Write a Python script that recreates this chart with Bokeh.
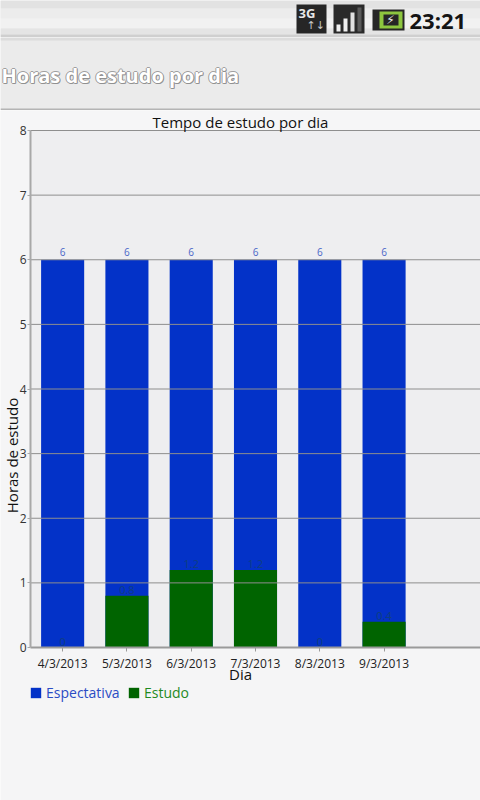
import math
from bokeh.plotting import figure
from bokeh.models import Range1d, FixedTicker, Legend, LegendItem, Label, ColumnDataSource, LinearAxis
from bokeh.layouts import column
from bokeh.embed import file_html
from bokeh.resources import INLINE
from bokeh.core.properties import value

# ---- data ----
days = ["4/3/2013", "5/3/2013", "6/3/2013", "7/3/2013", "8/3/2013", "9/3/2013"]
espectativa = [6, 6, 6, 6, 6, 6]
estudo = [0, 0.8, 1.2, 1.2, 0, 0.4]
y_ticks = [0, 1, 2, 3, 4, 5, 6, 7, 8]
chart_title = "Tempo de estudo por dia"
app_title = "Horas de estudo por dia"
x_title = "Dia"
y_title = "Horas de estudo"
clock = "23:21"

FONT = "Open Sans"
W = 480
BLUE = "#0332c8"
GREEN = "#006400"

def bare(h, y0, y1, bg):
    f = figure(width=W, height=h, x_range=Range1d(0, 480), y_range=Range1d(y1, y0),
               x_axis_location=None, y_axis_location=None, output_backend="svg",
               toolbar_location=None, min_border=0)
    f.grid.visible = False
    f.outline_line_color = None
    f.background_fill_color = bg
    f.border_fill_color = bg
    return f

# ---- status bar ----
sb = bare(37, 0, 37, "#ececec")
sb.quad(left=[0] * 5, right=[480] * 5, top=[0, 8, 18, 28, 34], bottom=[8, 18, 28, 34, 37],
        color=["#e2e2e2", "#ececec", "#f1f1f1", "#e4e4e4", "#cfcfcf"], line_color=None)
# 3G icon
sb.quad(left=[296], right=[326], top=[4], bottom=[33], color="#262626", line_color=None)
sb.text(x=[298], y=[12], text=["3G"], text_color="#e8e8e8", text_font=value(FONT),
        text_font_style="bold", text_font_size="13px", text_baseline="middle")
sb.text(x=[306], y=[25], text=["↑↓"], text_color="#c8c8c8", text_font=value("DejaVu Sans"),
        text_font_size="11px", text_baseline="middle")
# signal icon
sb.quad(left=[333], right=[364], top=[4], bottom=[33], color="#2a2a2a", line_color=None)
sb.quad(left=[336, 343, 350, 357], right=[340, 347, 354, 361], top=[24, 18, 12, 7],
        bottom=[31, 31, 31, 31], color=["#f0f0f0", "#f0f0f0", "#e0e0e0", "#5a5a5a"], line_color=None)
# battery icon
sb.quad(left=[372, 375], right=[404, 378], top=[9, 14], bottom=[30, 25], color="#262626", line_color=None)
sb.quad(left=[379], right=[402], top=[11], bottom=[28], color="#8dc63f", line_color=None)
sb.quad(left=[383], right=[398], top=[14], bottom=[25], color="#262626", line_color=None)
sb.text(x=[390], y=[19.5], text=["⚡"], text_color="#f4f4f4", text_font=value("DejaVu Sans"),
        text_font_size="12px", text_align="center", text_baseline="middle")
sb.text(x=[409], y=[19.5], text=[clock], text_color="#141414", text_font=value(FONT),
        text_font_style="bold", text_font_size="22px", text_baseline="middle")

# ---- application title bar ----
tb = bare(73, 37, 110, "#ebebeb")
tb.quad(left=[0, 0], right=[480, 480], top=[37, 108], bottom=[40, 110],
        color=["#dcdcdc", "#b4b4b4"], line_color=None)
for ox, oy in [(-1, 0), (1, 0), (0, -1), (0, 1), (1, 1)]:
    tb.text(x=[1 + ox], y=[75 + oy], text=[app_title], text_color="#8c8c8c", text_alpha=0.8,
            text_font=value(FONT), text_font_style="bold", text_font_size="20px",
            text_baseline="middle")
tb.text(x=[1], y=[75], text=[app_title], text_color="#ffffff", text_font=value(FONT),
        text_font_style="bold", text_font_size="20px", text_baseline="middle")

# ---- chart ----
H = 690           # covers screen rows 110..800
PX = 450 / 7.0    # pixels per x unit
PY = 517 / 8.0    # pixels per y unit
X0 = 0.5 - 30 / PX
X1 = 0.5 + 450 / PX
Y0 = -(800 - 647) / PY
Y1 = (647 - 110) / PY

def dx(px_):
    return 0.5 + (px_ - 30) / PX

def dy(py_):
    return (647 - py_) / PY

xs = list(range(1, len(days) + 1))
src = ColumnDataSource(dict(x=xs, esp=espectativa, est=estudo,
                            esp_t=[f"{v:g}" for v in espectativa],
                            est_t=[f"{v:g}" for v in estudo]))

p = figure(width=W, height=H, x_range=Range1d(X0, X1), y_range=Range1d(Y0, Y1),
           x_axis_location=None, y_axis_location=None,
           output_backend="svg", toolbar_location=None, min_border=0)
p.background_fill_color = "#f5f5f6"
p.border_fill_color = "#f5f5f6"
p.outline_line_color = None
p.grid.visible = False

# plot area
p.quad(left=[0.5], right=[X1], bottom=[0], top=[max(y_ticks)], color="#eeeef0", line_color=None)
p.quad(left=[X0], right=[X1], bottom=[dy(130)], top=[Y1], color="#f6f6f7", line_color=None)

r_esp = p.vbar(x="x", top="esp", bottom=0, width=0.67, source=src, fill_color=BLUE, line_color=None)
r_est = p.vbar(x="x", top="est", bottom=0, width=0.67, source=src, fill_color=GREEN, line_color=None)

# horizontal grid lines (drawn over the bars)
p.segment(x0=[0.5] * len(y_ticks[1:]), x1=[X1] * len(y_ticks[1:]), y0=y_ticks[1:], y1=y_ticks[1:],
          line_color="#8e8e8e", line_width=1)

p.text(x="x", y="esp", text="esp_t", source=src, text_color="#4a66c8", text_font=value(FONT),
       text_font_size="10px", text_align="center", text_baseline="bottom", y_offset=-4)
p.text(x="x", y="est", text="est_t", source=src, text_color="#0e3f80", text_font=value(FONT),
       text_font_size="11px", text_align="center", text_baseline="bottom", y_offset=-2)

xaxis = LinearAxis(fixed_location=0, ticker=FixedTicker(ticks=xs),
                   major_label_overrides={x: d for x, d in zip(xs, days)},
                   bounds=(0.5, X1),
                   axis_line_color="#9a9a9a", axis_line_width=2,
                   major_tick_line_color="#9a9a9a", major_tick_out=4, major_tick_in=0,
                   minor_tick_line_color=None,
                   major_label_text_font=FONT, major_label_text_font_size="12px",
                   major_label_text_color="#222222", major_label_standoff=3)
p.add_layout(xaxis, "below")

yaxis = LinearAxis(fixed_location=0.5, ticker=FixedTicker(ticks=y_ticks),
                   bounds=(0, max(y_ticks)),
                   axis_line_color="#a8a8a8", axis_line_width=2,
                   major_tick_line_color="#a8a8a8", major_tick_out=3, major_tick_in=0,
                   minor_tick_line_color=None,
                   major_label_text_font=FONT, major_label_text_font_size="12px",
                   major_label_text_color="#333333", major_label_standoff=1)
p.add_layout(yaxis, "left")

p.add_layout(Label(x=dx(240), y=dy(121), text=chart_title,
                   text_font=FONT, text_font_size="15px", text_color="#111111",
                   text_align="center", text_baseline="middle"))
p.add_layout(Label(x=dx(240), y=dy(673), text=x_title,
                   text_font=FONT, text_font_size="15px", text_color="#111111",
                   text_align="center", text_baseline="middle"))
p.add_layout(Label(x=dx(11), y=dy(455), text=y_title, angle=math.pi / 2,
                   text_font=FONT, text_font_size="15px", text_color="#111111",
                   text_align="center", text_baseline="middle"))

for rend, lab, col, loc in [(r_esp, "Espectativa", "#2b4cc4", (29, 800 - 702)),
                            (r_est, "Estudo", "#1f8a1f", (127, 800 - 702))]:
    lg = Legend(items=[LegendItem(label=lab, renderers=[rend])], location=loc,
                orientation="horizontal", padding=0, margin=0, spacing=0,
                border_line_color=None, background_fill_alpha=0,
                glyph_width=13, glyph_height=13, label_standoff=4, label_height=15,
                label_text_font=FONT, label_text_font_size="14px", label_text_color=col)
    p.add_layout(lg, "center")

layout = column(sb, tb, p, spacing=0)
open("out.html", "w").write(file_html(layout, INLINE))
